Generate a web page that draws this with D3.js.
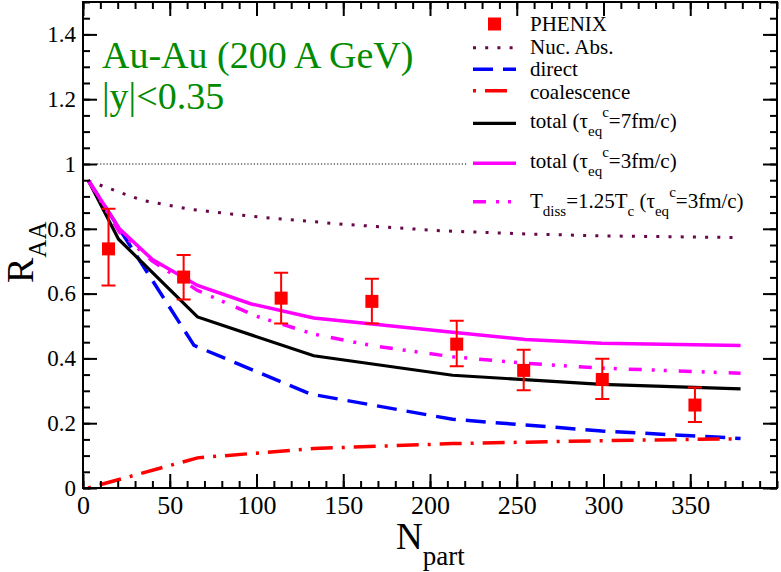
<!DOCTYPE html>
<html>
<head>
<meta charset="utf-8">
<script src="https://cdn.jsdelivr.net/npm/d3@7"></script>
<style>
  body { margin: 0; background: #fff; }
  svg { display: block; }
  text { font-family: "Liberation Serif", "DejaVu Serif", serif; }
</style>
</head>
<body>
<div id="chart"></div>
<script>
/* data */
let phenixN = [14.7, 58, 114.2, 166.5, 215.4, 254, 299.3, 352.7];
let phenixR = [0.738, 0.651, 0.586, 0.576, 0.444, 0.363, 0.335, 0.256];
let phenixLo = [0.625, 0.582, 0.508, 0.508, 0.376, 0.302, 0.275, 0.204];
let phenixHi = [0.862, 0.719, 0.664, 0.646, 0.516, 0.427, 0.399, 0.31];

let nucN = [3, 34, 62, 98, 150, 206, 256, 300, 379];
let nucR = [0.948, 0.888, 0.86, 0.838, 0.814, 0.794, 0.784, 0.778, 0.773];

let directN = [3, 64, 131, 213, 299, 379];
let directR = [0.95, 0.44, 0.29, 0.212, 0.176, 0.153];

let coalN = [3, 66, 133, 213, 299, 379];
let coalR = [0, 0.093, 0.122, 0.137, 0.146, 0.152];

let total7N = [3, 20.5, 66, 133, 213, 299, 379];
let total7R = [0.95, 0.768, 0.528, 0.408, 0.348, 0.32, 0.306];

let total3N = [3, 21, 40, 66, 97, 133, 213, 255, 299, 379];
let total3R = [0.95, 0.80, 0.705, 0.625, 0.568, 0.525, 0.481, 0.458, 0.447, 0.44];

let tdissN = [3, 21, 40, 66, 100, 133, 167, 213, 255, 299, 379];
let tdissR = [0.95, 0.79, 0.70, 0.61, 0.53, 0.475, 0.439, 0.405, 0.385, 0.37, 0.354];

let xTicks = [0, 50, 100, 150, 200, 250, 300, 350];
let yTicks = [0, 0.2, 0.4, 0.6, 0.8, 1, 1.2, 1.4];

let width = 781;
let height = 572;
let margin = { left: 83, right: 4, top: 2, bottom: 84 };

let serif = '"Liberation Serif", "DejaVu Serif", serif';

/* Scale */
let xScale = d3.scaleLinear().domain([0, 400]).range([margin.left, width - margin.right]);
let yScale = d3.scaleLinear().domain([0, 1.5]).range([height - margin.bottom, margin.top]);

let svg = d3
  .select("#chart")
  .append("svg")
  .attr("width", width)
  .attr("height", height);

/* reference line at R=1 */
svg
  .append("line")
  .attr("x1", xScale(0) + 14)
  .attr("x2", 468)
  .attr("y1", yScale(1))
  .attr("y2", yScale(1))
  .attr("stroke", "#000")
  .attr("stroke-width", 1)
  .attr("stroke-dasharray", "1.2,2");

/* curves */
let zip = (ns, rs) => ns.map((n, i) => ({ n: n, r: rs[i] }));

let curves = [
  { name: "Nuc. Abs.", values: zip(nucN, nucR), color: "#670748", width: 3, dash: "3,9.2" },
  { name: "direct", values: zip(directN, directR), color: "#0000ff", width: 3.5, dash: "20,10" },
  { name: "coalescence", values: zip(coalN, coalR), color: "#ff0000", width: 3.5, dash: "3,9,22,9" },
  { name: "total7", values: zip(total7N, total7R), color: "#000000", width: 3.2, dash: null },
  { name: "total3", values: zip(total3N, total3R), color: "#ff00ff", width: 3.5, dash: null },
  { name: "tdiss", values: zip(tdissN, tdissR), color: "#ff00ff", width: 3.5, dash: "13,10,3,9,3,12" }
];

let line = d3
  .line()
  .x(d => xScale(d.n))
  .y(d => yScale(d.r));

svg
  .append("g")
  .attr("class", "lines")
  .selectAll("path")
  .data(curves)
  .enter()
  .append("path")
  .attr("d", d => line(d.values))
  .attr("fill", "none")
  .attr("stroke", d => d.color)
  .attr("stroke-width", d => d.width)
  .attr("stroke-dasharray", d => d.dash);

/* PHENIX points with error bars */
let points = phenixN.map((n, i) => ({ n: n, r: phenixR[i], lo: phenixLo[i], hi: phenixHi[i] }));
let pts = svg.append("g").attr("class", "phenix").attr("stroke", "#ff0000").attr("stroke-width", 2);

pts
  .selectAll(".bar")
  .data(points)
  .enter()
  .append("path")
  .attr("fill", "none")
  .attr("d", d => {
    let x = xScale(d.n), y1 = yScale(d.lo), y2 = yScale(d.hi);
    return `M${x},${y1}V${y2}M${x - 7},${y1}H${x + 7}M${x - 7},${y2}H${x + 7}`;
  });

pts
  .selectAll("rect")
  .data(points)
  .enter()
  .append("rect")
  .attr("x", d => xScale(d.n) - 6.5)
  .attr("y", d => yScale(d.r) - 6.5)
  .attr("width", 13)
  .attr("height", 13)
  .attr("fill", "#ff0000")
  .attr("stroke", "none");

/* Axes, ticks pointing inward on all four sides */
let plotBottom = yScale(0), plotTop = yScale(1.5);
let plotLeft = xScale(0), plotRight = xScale(400);
let xMinor = d3.range(0, 401, 10);
let yMinor = d3.range(0, 1.501, 0.05);

function styleAxis(g) {
  g.select(".domain").remove();
  g.selectAll("line").attr("stroke", "#000").attr("stroke-width", 2);
  g.selectAll("text").attr("fill", "#000").style("font-family", serif);
}

// minor ticks
svg.append("g").attr("transform", `translate(0,${plotBottom})`)
  .call(d3.axisBottom(xScale).tickValues(xMinor).tickSize(-7).tickFormat("")).call(styleAxis);
svg.append("g").attr("transform", `translate(0,${plotTop})`)
  .call(d3.axisTop(xScale).tickValues(xMinor).tickSize(-7).tickFormat("")).call(styleAxis);
svg.append("g").attr("transform", `translate(${plotLeft},0)`)
  .call(d3.axisLeft(yScale).tickValues(yMinor).tickSize(-7).tickFormat("")).call(styleAxis);
svg.append("g").attr("transform", `translate(${plotRight},0)`)
  .call(d3.axisRight(yScale).tickValues(yMinor).tickSize(-7).tickFormat("")).call(styleAxis);

// major ticks + labels
svg.append("g").attr("transform", `translate(0,${plotBottom})`)
  .call(d3.axisBottom(xScale).tickValues(xTicks).tickSize(-14).tickPadding(8).tickFormat(d => d))
  .call(styleAxis)
  .selectAll("text").style("font-size", "26px");
svg.append("g").attr("transform", `translate(0,${plotTop})`)
  .call(d3.axisTop(xScale).tickValues(xTicks).tickSize(-14).tickFormat("")).call(styleAxis);
svg.append("g").attr("transform", `translate(${plotLeft},0)`)
  .call(d3.axisLeft(yScale).tickValues(yTicks).tickSize(-14).tickPadding(7)
    .tickFormat(d => (d === 0 || d === 1 ? String(d) : d.toFixed(1))))
  .call(styleAxis)
  .selectAll("text").style("font-size", "23px");
svg.append("g").attr("transform", `translate(${plotRight},0)`)
  .call(d3.axisRight(yScale).tickValues(yTicks).tickSize(-14).tickFormat("")).call(styleAxis);

/* frame */
svg
  .append("rect")
  .attr("x", plotLeft)
  .attr("y", plotTop)
  .attr("width", plotRight - plotLeft)
  .attr("height", plotBottom - plotTop)
  .attr("fill", "none")
  .attr("stroke", "#000")
  .attr("stroke-width", 2);

/* axis titles */
let xTitle = svg.append("text")
  .attr("x", 396)
  .attr("y", 549)
  .style("font-size", "37px")
  .attr("fill", "#000");
xTitle.append("tspan").text("N");
xTitle.append("tspan").attr("dy", 16).style("font-size", "27px").text("part");

let yTitle = svg.append("text")
  .attr("transform", "translate(33,283) rotate(-90)")
  .style("font-size", "38px")
  .attr("fill", "#000");
yTitle.append("tspan").text("R");
yTitle.append("tspan").attr("dy", 13).style("font-size", "25px").text("AA");

/* annotation */
let note = svg.append("g").attr("fill", "#008b00").style("font-size", "38px");
note.append("text").attr("x", 102).attr("y", 68).text("Au-Au (200 A GeV)");
note.append("text").attr("x", 102).attr("y", 109).text("|y|<0.35");

/* Legend */
let legendX1 = 473, legendX2 = 516, legendText = 530;
let legendRows = [
  { key: "phenix", y: 24 },
  { key: "Nuc. Abs.", y: 47.7 },
  { key: "direct", y: 69.3 },
  { key: "coalescence", y: 90.7 },
  { key: "total7", y: 123.3 },
  { key: "total3", y: 163.3 },
  { key: "tdiss", y: 201.7 }
];

let legend = svg.append("g").attr("class", "legend");

legendRows.forEach(row => {
  if (row.key === "phenix") {
    legend.append("rect")
      .attr("x", (legendX1 + legendX2) / 2 - 6.5)
      .attr("y", row.y - 6.5)
      .attr("width", 13)
      .attr("height", 13)
      .attr("fill", "#ff0000");
  } else {
    let c = curves.find(d => d.name === row.key);
    legend.append("line")
      .attr("x1", legendX1)
      .attr("x2", legendX2)
      .attr("y1", row.y)
      .attr("y2", row.y)
      .attr("stroke", c.color)
      .attr("stroke-width", c.width)
      .attr("stroke-dasharray", c.dash);
  }
});

function legendLabel(base) {
  return legend.append("text")
    .attr("x", legendText)
    .attr("y", base)
    .attr("fill", "#000")
    .style("font-size", "21px");
}

legendLabel(31).text("PHENIX");
legendLabel(54).text("Nuc. Abs.");
legendLabel(76).text("direct");
legendLabel(99).text("coalescence");

function tauPart(t) {
  t.append("tspan").text("(τ");
  t.append("tspan").attr("dy", 8).style("font-size", "15px").text("eq");
  t.append("tspan").attr("dy", -19).style("font-size", "15px").text("c");
}

let t7 = legendLabel(128.3);
t7.append("tspan").text("total ");
tauPart(t7);
t7.append("tspan").attr("dy", 11).text("=7fm/c)");

let t3 = legendLabel(168.3);
t3.append("tspan").text("total ");
tauPart(t3);
t3.append("tspan").attr("dy", 11).text("=3fm/c)");

let td = legendLabel(208.3);
td.append("tspan").text("T");
td.append("tspan").attr("dy", 8).style("font-size", "15px").text("diss");
td.append("tspan").attr("dy", -8).text("=1.25T");
td.append("tspan").attr("dy", 8).style("font-size", "15px").text("c");
td.append("tspan").attr("dy", -8).text(" ");
tauPart(td);
td.append("tspan").attr("dy", 11).text("=3fm/c)");
</script>
</body>
</html>
